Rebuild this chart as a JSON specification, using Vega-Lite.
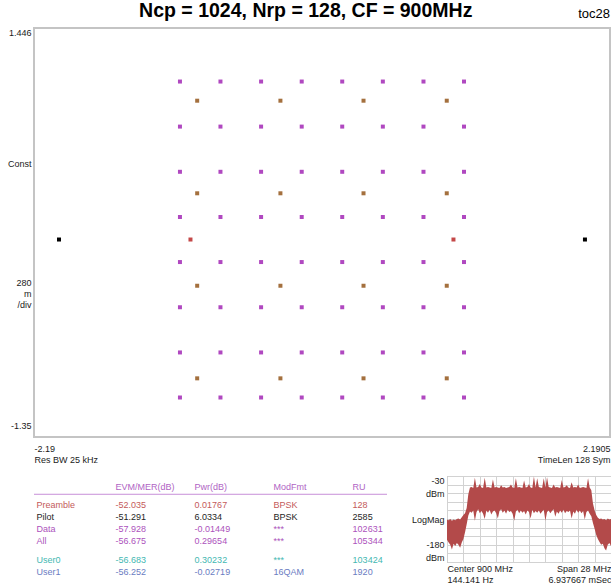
{
  "$schema": "https://vega.github.io/schema/vega-lite/v6.json",
  "background": "white",
  "padding": {"left": 0, "top": 0, "right": 0, "bottom": 0},
  "title": {"text": "Ncp = 1024, Nrp = 128, CF = 900MHz", "anchor": "middle", "frame": "bounds", "font": "Liberation Sans", "fontSize": 19.5, "fontWeight": "bold", "color": "#000000", "offset": -14},
  "spacing": 7,
  "resolve": {"scale": {"color": "independent"}},
  "config": {
    "font": "Liberation Sans",
    "view": {"stroke": null},
    "axis": {"labelFont": "Liberation Sans", "labelFontSize": 9, "labelColor": "#1a1a1a", "ticks": false, "tickSize": 0, "domain": false, "grid": false, "labelOverlap": false, "title": null}
  },
  "vconcat": [
    {
      "width": 576,
      "height": 409,
      "title": {"text": "toc28", "anchor": "end", "frame": "group", "font": "Liberation Sans", "fontSize": 13, "fontWeight": "normal", "color": "#000000", "offset": 7},
      "view": {"stroke": "#c4c4c4", "strokeWidth": 2},
      "data": {"values": [
        {"i": -1.080, "q": 1.080, "g": "Data"}, {"i": -0.772, "q": 1.080, "g": "Data"}, {"i": -0.463, "q": 1.080, "g": "Data"}, {"i": -0.154, "q": 1.080, "g": "Data"},
        {"i": 0.154, "q": 1.080, "g": "Data"}, {"i": 0.463, "q": 1.080, "g": "Data"}, {"i": 0.772, "q": 1.080, "g": "Data"}, {"i": 1.080, "q": 1.080, "g": "Data"},
        {"i": -1.080, "q": 0.772, "g": "Data"}, {"i": -0.772, "q": 0.772, "g": "Data"}, {"i": -0.463, "q": 0.772, "g": "Data"}, {"i": -0.154, "q": 0.772, "g": "Data"},
        {"i": 0.154, "q": 0.772, "g": "Data"}, {"i": 0.463, "q": 0.772, "g": "Data"}, {"i": 0.772, "q": 0.772, "g": "Data"}, {"i": 1.080, "q": 0.772, "g": "Data"},
        {"i": -1.080, "q": 0.463, "g": "Data"}, {"i": -0.772, "q": 0.463, "g": "Data"}, {"i": -0.463, "q": 0.463, "g": "Data"}, {"i": -0.154, "q": 0.463, "g": "Data"},
        {"i": 0.154, "q": 0.463, "g": "Data"}, {"i": 0.463, "q": 0.463, "g": "Data"}, {"i": 0.772, "q": 0.463, "g": "Data"}, {"i": 1.080, "q": 0.463, "g": "Data"},
        {"i": -1.080, "q": 0.154, "g": "Data"}, {"i": -0.772, "q": 0.154, "g": "Data"}, {"i": -0.463, "q": 0.154, "g": "Data"}, {"i": -0.154, "q": 0.154, "g": "Data"},
        {"i": 0.154, "q": 0.154, "g": "Data"}, {"i": 0.463, "q": 0.154, "g": "Data"}, {"i": 0.772, "q": 0.154, "g": "Data"}, {"i": 1.080, "q": 0.154, "g": "Data"},
        {"i": -1.080, "q": -0.154, "g": "Data"}, {"i": -0.772, "q": -0.154, "g": "Data"}, {"i": -0.463, "q": -0.154, "g": "Data"}, {"i": -0.154, "q": -0.154, "g": "Data"},
        {"i": 0.154, "q": -0.154, "g": "Data"}, {"i": 0.463, "q": -0.154, "g": "Data"}, {"i": 0.772, "q": -0.154, "g": "Data"}, {"i": 1.080, "q": -0.154, "g": "Data"},
        {"i": -1.080, "q": -0.463, "g": "Data"}, {"i": -0.772, "q": -0.463, "g": "Data"}, {"i": -0.463, "q": -0.463, "g": "Data"}, {"i": -0.154, "q": -0.463, "g": "Data"},
        {"i": 0.154, "q": -0.463, "g": "Data"}, {"i": 0.463, "q": -0.463, "g": "Data"}, {"i": 0.772, "q": -0.463, "g": "Data"}, {"i": 1.080, "q": -0.463, "g": "Data"},
        {"i": -1.080, "q": -0.772, "g": "Data"}, {"i": -0.772, "q": -0.772, "g": "Data"}, {"i": -0.463, "q": -0.772, "g": "Data"}, {"i": -0.154, "q": -0.772, "g": "Data"},
        {"i": 0.154, "q": -0.772, "g": "Data"}, {"i": 0.463, "q": -0.772, "g": "Data"}, {"i": 0.772, "q": -0.772, "g": "Data"}, {"i": 1.080, "q": -0.772, "g": "Data"},
        {"i": -1.080, "q": -1.080, "g": "Data"}, {"i": -0.772, "q": -1.080, "g": "Data"}, {"i": -0.463, "q": -1.080, "g": "Data"}, {"i": -0.154, "q": -1.080, "g": "Data"},
        {"i": 0.154, "q": -1.080, "g": "Data"}, {"i": 0.463, "q": -1.080, "g": "Data"}, {"i": 0.772, "q": -1.080, "g": "Data"}, {"i": 1.080, "q": -1.080, "g": "Data"},
        {"i": -0.949, "q": 0.949, "g": "User1"}, {"i": -0.316, "q": 0.949, "g": "User1"}, {"i": 0.316, "q": 0.949, "g": "User1"}, {"i": 0.949, "q": 0.949, "g": "User1"},
        {"i": -0.949, "q": 0.316, "g": "User1"}, {"i": -0.316, "q": 0.316, "g": "User1"}, {"i": 0.316, "q": 0.316, "g": "User1"}, {"i": 0.949, "q": 0.316, "g": "User1"},
        {"i": -0.949, "q": -0.316, "g": "User1"}, {"i": -0.316, "q": -0.316, "g": "User1"}, {"i": 0.316, "q": -0.316, "g": "User1"}, {"i": 0.949, "q": -0.316, "g": "User1"},
        {"i": -0.949, "q": -0.949, "g": "User1"}, {"i": -0.316, "q": -0.949, "g": "User1"}, {"i": 0.316, "q": -0.949, "g": "User1"}, {"i": 0.949, "q": -0.949, "g": "User1"},
        {"i": -1.0, "q": 0.0, "g": "Preamble"}, {"i": 1.0, "q": 0.0, "g": "Preamble"},
        {"i": -2.0, "q": 0.0, "g": "Pilot"}, {"i": 2.0, "q": 0.0, "g": "Pilot"}
      ]},
      "mark": {"type": "point", "shape": "square", "filled": true, "size": 16, "opacity": 1},
      "encoding": {
        "x": {"field": "i", "type": "quantitative",
              "scale": {"domain": [-2.19, 2.1905], "nice": false, "zero": false},
              "axis": {"title": null, "values": [-2.19, 2.1905], "labelFlush": true, "labelPadding": 7, "labelLineHeight": 11, "minExtent": 30,
                       "labelExpr": "datum.value < 0 ? ['-2.19', 'Res BW 25 kHz'] : ['2.1905', 'TimeLen 128  Sym']"}},
        "y": {"field": "q", "type": "quantitative",
              "scale": {"domain": [-1.35, 1.446], "nice": false, "zero": false},
              "axis": {"title": null, "values": [1.446, 0.523, -0.292, -0.372, -0.446, -1.268], "labelFlush": true, "labelPadding": 3, "minExtent": 33,
                       "labelExpr": "datum.value > 1.4 ? '1.446' : datum.value > 0.4 ? 'Const' : datum.value > -0.33 ? '280' : datum.value > -0.41 ? 'm' : datum.value > -0.5 ? '/div' : '-1.35'"}},
        "color": {"field": "g", "type": "nominal",
                  "scale": {"domain": ["Data", "User1", "Preamble", "Pilot"], "range": ["#b048c0", "#a4703e", "#c44848", "#000000"]},
                  "legend": null}
      }
    },
    {
      "spacing": 20,
      "resolve": {"scale": {"color": "independent"}},
      "hconcat": [
        {
          "width": 353,
          "height": 99,
          "view": {"stroke": null},
          "layer": [
            {
              "data": {"values": [{"k": 1}]},
              "mark": {"type": "rule", "color": "#c890d8", "strokeWidth": 1},
              "encoding": {
                "y": {"datum": "_1", "type": "nominal", "bandPosition": 0.75,
                      "scale": {"type": "band", "domain": ["header", "_1", "_2", "Preamble", "_3", "Pilot", "_4", "Data", "_5", "All", "_6", "_7", "User0", "_8", "User1"], "paddingInner": 0, "paddingOuter": 0.625, "align": 1},
                      "axis": null}
              }
            },
            {
              "data": {"values": [
                {"r": "header", "c": "evm", "t": "EVM/MER(dB)"}, {"r": "header", "c": "pwr", "t": "Pwr(dB)"}, {"r": "header", "c": "mod", "t": "ModFmt"}, {"r": "header", "c": "ru", "t": "RU"},
                {"r": "Preamble", "c": "label", "t": "Preamble"}, {"r": "Preamble", "c": "evm", "t": "-52.035"}, {"r": "Preamble", "c": "pwr", "t": "0.01767"}, {"r": "Preamble", "c": "mod", "t": "BPSK"}, {"r": "Preamble", "c": "ru", "t": "128"},
                {"r": "Pilot", "c": "label", "t": "Pilot"}, {"r": "Pilot", "c": "evm", "t": "-51.291"}, {"r": "Pilot", "c": "pwr", "t": "6.0334"}, {"r": "Pilot", "c": "mod", "t": "BPSK"}, {"r": "Pilot", "c": "ru", "t": "2585"},
                {"r": "Data", "c": "label", "t": "Data"}, {"r": "Data", "c": "evm", "t": "-57.928"}, {"r": "Data", "c": "pwr", "t": "-0.01449"}, {"r": "Data", "c": "mod", "t": "***"}, {"r": "Data", "c": "ru", "t": "102631"},
                {"r": "All", "c": "label", "t": "All"}, {"r": "All", "c": "evm", "t": "-56.675"}, {"r": "All", "c": "pwr", "t": "0.29654"}, {"r": "All", "c": "mod", "t": "***"}, {"r": "All", "c": "ru", "t": "105344"},
                {"r": "User0", "c": "label", "t": "User0"}, {"r": "User0", "c": "evm", "t": "-56.683"}, {"r": "User0", "c": "pwr", "t": "0.30232"}, {"r": "User0", "c": "mod", "t": "***"}, {"r": "User0", "c": "ru", "t": "103424"},
                {"r": "User1", "c": "label", "t": "User1"}, {"r": "User1", "c": "evm", "t": "-56.252"}, {"r": "User1", "c": "pwr", "t": "-0.02719"}, {"r": "User1", "c": "mod", "t": "16QAM"}, {"r": "User1", "c": "ru", "t": "1920"}
              ]},
              "mark": {"type": "text", "align": "left", "baseline": "middle", "font": "Liberation Sans", "fontSize": 9},
              "encoding": {
                "x": {"field": "c", "type": "nominal", "scale": {"type": "point", "domain": ["label", "evm", "pwr", "mod", "ru"], "padding": 0.234, "align": 0.07}, "axis": null},
                "y": {"field": "r", "type": "nominal",
                      "scale": {"type": "band", "domain": ["header", "_1", "_2", "Preamble", "_3", "Pilot", "_4", "Data", "_5", "All", "_6", "_7", "User0", "_8", "User1"], "paddingInner": 0, "paddingOuter": 0.625, "align": 1},
                      "axis": null},
                "text": {"field": "t", "type": "nominal"},
                "color": {"field": "r", "type": "nominal",
                          "scale": {"domain": ["header", "Preamble", "Pilot", "Data", "All", "User0", "User1"], "range": ["#b064c4", "#c45a5a", "#1e1e1e", "#ac52bc", "#ac52bc", "#44b8b2", "#6a7cc2"]},
                          "legend": null}
              }
            }
          ]
        },
        {
          "width": 164,
          "height": 86,
          "view": {"stroke": "#a8a8a8", "strokeWidth": 1},
          "data": {"values": [
            {"f": 886.00, "hi": -106, "lo": -141}, {"f": 886.28, "hi": -107, "lo": -146}, {"f": 886.56, "hi": -105, "lo": -150}, {"f": 886.84, "hi": -108, "lo": -158},
            {"f": 887.12, "hi": -106, "lo": -148}, {"f": 887.40, "hi": -107, "lo": -152}, {"f": 887.68, "hi": -105, "lo": -147}, {"f": 887.96, "hi": -104, "lo": -150},
            {"f": 888.24, "hi": -106, "lo": -155}, {"f": 888.52, "hi": -102, "lo": -146}, {"f": 888.80, "hi": -98, "lo": -140}, {"f": 889.08, "hi": -95, "lo": -128},
            {"f": 889.36, "hi": -86, "lo": -114}, {"f": 889.64, "hi": -62, "lo": -99}, {"f": 889.92, "hi": -50, "lo": -92}, {"f": 890.20, "hi": -49, "lo": -94},
            {"f": 890.48, "hi": -51, "lo": -90}, {"f": 890.76, "hi": -33, "lo": -108}, {"f": 891.04, "hi": -50, "lo": -93}, {"f": 891.32, "hi": -49, "lo": -88},
            {"f": 891.60, "hi": -44, "lo": -95}, {"f": 891.88, "hi": -50, "lo": -91}, {"f": 892.16, "hi": -51, "lo": -96}, {"f": 892.44, "hi": -33, "lo": -105},
            {"f": 892.72, "hi": -50, "lo": -90}, {"f": 893.00, "hi": -49, "lo": -94}, {"f": 893.28, "hi": -50, "lo": -89}, {"f": 893.56, "hi": -51, "lo": -97},
            {"f": 893.84, "hi": -36, "lo": -92}, {"f": 894.12, "hi": -50, "lo": -90}, {"f": 894.40, "hi": -49, "lo": -95}, {"f": 894.68, "hi": -50, "lo": -104},
            {"f": 894.96, "hi": -51, "lo": -91}, {"f": 895.24, "hi": -46, "lo": -88}, {"f": 895.52, "hi": -50, "lo": -94}, {"f": 895.80, "hi": -49, "lo": -90},
            {"f": 896.08, "hi": -51, "lo": -96}, {"f": 896.36, "hi": -50, "lo": -89}, {"f": 896.64, "hi": -49, "lo": -93}, {"f": 896.92, "hi": -45, "lo": -91},
            {"f": 897.20, "hi": -50, "lo": -96}, {"f": 897.48, "hi": -51, "lo": -108}, {"f": 897.76, "hi": -34, "lo": -92}, {"f": 898.04, "hi": -50, "lo": -89},
            {"f": 898.32, "hi": -49, "lo": -95}, {"f": 898.60, "hi": -50, "lo": -90}, {"f": 898.88, "hi": -51, "lo": -94}, {"f": 899.16, "hi": -38, "lo": -91},
            {"f": 899.44, "hi": -50, "lo": -97}, {"f": 899.72, "hi": -49, "lo": -90}, {"f": 900.00, "hi": -44, "lo": -93}, {"f": 900.28, "hi": -50, "lo": -104},
            {"f": 900.56, "hi": -51, "lo": -89}, {"f": 900.84, "hi": -31, "lo": -95}, {"f": 901.12, "hi": -50, "lo": -91}, {"f": 901.40, "hi": -34, "lo": -94},
            {"f": 901.68, "hi": -49, "lo": -90}, {"f": 901.96, "hi": -50, "lo": -96}, {"f": 902.24, "hi": -51, "lo": -92}, {"f": 902.52, "hi": -34, "lo": -89},
            {"f": 902.80, "hi": -50, "lo": -108}, {"f": 903.08, "hi": -32, "lo": -93}, {"f": 903.36, "hi": -49, "lo": -90}, {"f": 903.64, "hi": -50, "lo": -95},
            {"f": 903.92, "hi": -51, "lo": -91}, {"f": 904.20, "hi": -45, "lo": -88}, {"f": 904.48, "hi": -50, "lo": -101}, {"f": 904.76, "hi": -49, "lo": -92},
            {"f": 905.04, "hi": -50, "lo": -96}, {"f": 905.32, "hi": -51, "lo": -90}, {"f": 905.60, "hi": -37, "lo": -94}, {"f": 905.88, "hi": -50, "lo": -89},
            {"f": 906.16, "hi": -49, "lo": -95}, {"f": 906.44, "hi": -46, "lo": -91}, {"f": 906.72, "hi": -50, "lo": -93}, {"f": 907.00, "hi": -51, "lo": -90},
            {"f": 907.28, "hi": -41, "lo": -104}, {"f": 907.56, "hi": -50, "lo": -92}, {"f": 907.84, "hi": -49, "lo": -96}, {"f": 908.12, "hi": -50, "lo": -89},
            {"f": 908.40, "hi": -45, "lo": -94}, {"f": 908.68, "hi": -51, "lo": -90}, {"f": 908.96, "hi": -50, "lo": -95}, {"f": 909.24, "hi": -49, "lo": -91},
            {"f": 909.52, "hi": -50, "lo": -106}, {"f": 909.80, "hi": -51, "lo": -93}, {"f": 910.08, "hi": -34, "lo": -90}, {"f": 910.36, "hi": -50, "lo": -96},
            {"f": 910.64, "hi": -55, "lo": -100}, {"f": 910.92, "hi": -78, "lo": -112}, {"f": 911.20, "hi": -90, "lo": -122}, {"f": 911.48, "hi": -98, "lo": -133},
            {"f": 911.76, "hi": -103, "lo": -140}, {"f": 912.04, "hi": -105, "lo": -145}, {"f": 912.32, "hi": -104, "lo": -150}, {"f": 912.60, "hi": -106, "lo": -148},
            {"f": 912.88, "hi": -105, "lo": -156}, {"f": 913.16, "hi": -107, "lo": -160}, {"f": 913.44, "hi": -104, "lo": -150}, {"f": 913.72, "hi": -106, "lo": -147},
            {"f": 914.00, "hi": -105, "lo": -152}
          ]},
          "mark": {"type": "area", "color": "#b34a4a", "opacity": 1, "clip": true, "interpolate": "linear"},
          "encoding": {
            "x": {"field": "f", "type": "quantitative",
                  "scale": {"domain": [886, 914], "nice": false, "zero": false},
                  "axis": {"title": null, "grid": true, "gridColor": "#d2d2d2", "gridWidth": 1,
                           "values": [886, 888.8, 891.6, 894.4, 897.2, 900, 902.8, 905.6, 908.4, 911.2, 914],
                           "labelFlush": true, "labelPadding": 2, "labelLineHeight": 11,
                           "labelExpr": "datum.value < 887 ? ['Center 900 MHz', '144.141  Hz'] : datum.value > 913 ? ['Span 28 MHz', '6.937667 mSec'] : ''"}},
            "y": {"field": "hi", "type": "quantitative",
                  "scale": {"domain": [-180, -30], "nice": false, "zero": false},
                  "axis": {"title": null, "grid": true, "gridColor": "#d2d2d2", "gridWidth": 1,
                           "values": [-30, -45, -60, -75, -90, -105, -120, -135, -150, -165, -180],
                           "labelFlush": true, "labelPadding": 3, "minExtent": 38,
                           "labelExpr": "datum.value == -30 ? '-30' : datum.value == -60 ? 'dBm' : datum.value == -105 ? 'LogMag' : datum.value == -150 ? '-180' : datum.value == -180 ? 'dBm' : ''"}},
            "y2": {"field": "lo"}
          }
        }
      ]
    }
  ]
}
